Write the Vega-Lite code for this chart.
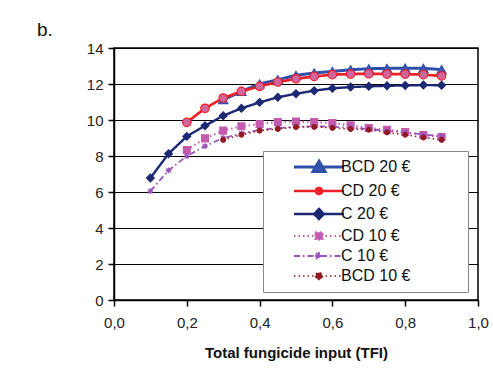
{
  "$schema": "https://vega.github.io/schema/vega-lite/v6.json",
  "autosize": "none",
  "width": 364,
  "height": 252,
  "padding": {"left": 114, "top": 48, "right": 15, "bottom": 73},
  "background": "white",
  "config": {
    "font": "Liberation Sans",
    "view": {"stroke": "black", "strokeWidth": 1.5}
  },
  "title": {"text": "b.", "anchor": "start", "frame": "group", "fontSize": 19, "fontWeight": "normal", "color": "#111", "dx": -77, "offset": -18, "baseline": "bottom"},
  "data": {"values": [
    {"s": "BCD 20 €", "x": 0.3, "y": 11.13}, {"s": "BCD 20 €", "x": 0.35, "y": 11.59}, {"s": "BCD 20 €", "x": 0.4, "y": 12.0}, {"s": "BCD 20 €", "x": 0.45, "y": 12.24}, {"s": "BCD 20 €", "x": 0.5, "y": 12.48}, {"s": "BCD 20 €", "x": 0.55, "y": 12.61}, {"s": "BCD 20 €", "x": 0.6, "y": 12.7}, {"s": "BCD 20 €", "x": 0.65, "y": 12.79}, {"s": "BCD 20 €", "x": 0.7, "y": 12.85}, {"s": "BCD 20 €", "x": 0.75, "y": 12.87}, {"s": "BCD 20 €", "x": 0.8, "y": 12.88}, {"s": "BCD 20 €", "x": 0.85, "y": 12.87}, {"s": "BCD 20 €", "x": 0.9, "y": 12.8},
    {"s": "CD 20 €", "x": 0.2, "y": 9.87}, {"s": "CD 20 €", "x": 0.25, "y": 10.65}, {"s": "CD 20 €", "x": 0.3, "y": 11.22}, {"s": "CD 20 €", "x": 0.35, "y": 11.59}, {"s": "CD 20 €", "x": 0.4, "y": 11.87}, {"s": "CD 20 €", "x": 0.45, "y": 12.11}, {"s": "CD 20 €", "x": 0.5, "y": 12.29}, {"s": "CD 20 €", "x": 0.55, "y": 12.42}, {"s": "CD 20 €", "x": 0.6, "y": 12.52}, {"s": "CD 20 €", "x": 0.65, "y": 12.55}, {"s": "CD 20 €", "x": 0.7, "y": 12.57}, {"s": "CD 20 €", "x": 0.75, "y": 12.55}, {"s": "CD 20 €", "x": 0.8, "y": 12.55}, {"s": "CD 20 €", "x": 0.85, "y": 12.52}, {"s": "CD 20 €", "x": 0.9, "y": 12.45},
    {"s": "C 20 €", "x": 0.1, "y": 6.78}, {"s": "C 20 €", "x": 0.15, "y": 8.13}, {"s": "C 20 €", "x": 0.2, "y": 9.09}, {"s": "C 20 €", "x": 0.25, "y": 9.68}, {"s": "C 20 €", "x": 0.3, "y": 10.24}, {"s": "C 20 €", "x": 0.35, "y": 10.65}, {"s": "C 20 €", "x": 0.4, "y": 10.98}, {"s": "C 20 €", "x": 0.45, "y": 11.26}, {"s": "C 20 €", "x": 0.5, "y": 11.46}, {"s": "C 20 €", "x": 0.55, "y": 11.63}, {"s": "C 20 €", "x": 0.6, "y": 11.76}, {"s": "C 20 €", "x": 0.65, "y": 11.83}, {"s": "C 20 €", "x": 0.7, "y": 11.87}, {"s": "C 20 €", "x": 0.75, "y": 11.9}, {"s": "C 20 €", "x": 0.8, "y": 11.92}, {"s": "C 20 €", "x": 0.85, "y": 11.94}, {"s": "C 20 €", "x": 0.9, "y": 11.93},
    {"s": "CD 10 €", "x": 0.2, "y": 8.33}, {"s": "CD 10 €", "x": 0.25, "y": 8.98}, {"s": "CD 10 €", "x": 0.3, "y": 9.41}, {"s": "CD 10 €", "x": 0.35, "y": 9.65}, {"s": "CD 10 €", "x": 0.4, "y": 9.78}, {"s": "CD 10 €", "x": 0.45, "y": 9.89}, {"s": "CD 10 €", "x": 0.5, "y": 9.92}, {"s": "CD 10 €", "x": 0.55, "y": 9.89}, {"s": "CD 10 €", "x": 0.6, "y": 9.83}, {"s": "CD 10 €", "x": 0.65, "y": 9.7}, {"s": "CD 10 €", "x": 0.7, "y": 9.56}, {"s": "CD 10 €", "x": 0.75, "y": 9.46}, {"s": "CD 10 €", "x": 0.8, "y": 9.33}, {"s": "CD 10 €", "x": 0.85, "y": 9.17}, {"s": "CD 10 €", "x": 0.9, "y": 9.06},
    {"s": "C 10 €", "x": 0.1, "y": 6.05}, {"s": "C 10 €", "x": 0.15, "y": 7.2}, {"s": "C 10 €", "x": 0.2, "y": 8.0}, {"s": "C 10 €", "x": 0.25, "y": 8.55}, {"s": "C 10 €", "x": 0.3, "y": 9.0}, {"s": "C 10 €", "x": 0.35, "y": 9.25}, {"s": "C 10 €", "x": 0.4, "y": 9.45}, {"s": "C 10 €", "x": 0.45, "y": 9.55}, {"s": "C 10 €", "x": 0.5, "y": 9.62}, {"s": "C 10 €", "x": 0.55, "y": 9.65}, {"s": "C 10 €", "x": 0.6, "y": 9.62}, {"s": "C 10 €", "x": 0.65, "y": 9.57}, {"s": "C 10 €", "x": 0.7, "y": 9.5}, {"s": "C 10 €", "x": 0.75, "y": 9.4}, {"s": "C 10 €", "x": 0.8, "y": 9.3}, {"s": "C 10 €", "x": 0.85, "y": 9.2}, {"s": "C 10 €", "x": 0.9, "y": 9.1},
    {"s": "BCD 10 €", "x": 0.3, "y": 8.9}, {"s": "BCD 10 €", "x": 0.35, "y": 9.18}, {"s": "BCD 10 €", "x": 0.4, "y": 9.41}, {"s": "BCD 10 €", "x": 0.45, "y": 9.5}, {"s": "BCD 10 €", "x": 0.5, "y": 9.61}, {"s": "BCD 10 €", "x": 0.55, "y": 9.62}, {"s": "BCD 10 €", "x": 0.6, "y": 9.56}, {"s": "BCD 10 €", "x": 0.65, "y": 9.5}, {"s": "BCD 10 €", "x": 0.7, "y": 9.46}, {"s": "BCD 10 €", "x": 0.75, "y": 9.31}, {"s": "BCD 10 €", "x": 0.8, "y": 9.18}, {"s": "BCD 10 €", "x": 0.85, "y": 9.03}, {"s": "BCD 10 €", "x": 0.9, "y": 8.9}
  ]},
  "encoding": {
    "x": {"field": "x", "type": "quantitative", "scale": {"domain": [0, 1], "nice": false},
      "axis": {"title": "Total fungicide input (TFI)", "values": [0, 0.2, 0.4, 0.6, 0.8, 1.0], "labelExpr": "replace(format(datum.value, '.1f'), '.', ',')", "grid": false, "domainColor": "black", "domainWidth": 1.5, "tickColor": "black", "tickWidth": 1.5, "tickSize": 6, "labelFontSize": 15, "labelColor": "#222", "labelPadding": 9, "titleFontSize": 15, "titleFontWeight": "bold", "titleColor": "#111", "titlePadding": 15, "labelFlush": false}},
    "y": {"field": "y", "type": "quantitative", "scale": {"domain": [0, 14], "nice": false},
      "axis": {"title": null, "values": [0, 2, 4, 6, 8, 10, 12, 14], "grid": true, "gridColor": "black", "gridWidth": 1.2, "gridOpacity": 1, "domainColor": "black", "domainWidth": 1.5, "tickColor": "black", "tickWidth": 1.5, "tickSize": 6, "labelFontSize": 15, "labelColor": "#222", "labelPadding": 5}}
  },
  "resolve": {"scale": {"stroke": "independent", "shape": "independent", "fill": "independent", "size": "independent", "strokeDash": "independent", "strokeWidth": "independent"}, "legend": {"stroke": "independent"}},
  "layer": [
    {
      "mark": {"type": "line"},
      "encoding": {
        "stroke": {"field": "s", "type": "nominal",
          "scale": {"domain": ["BCD 20 €", "CD 20 €", "C 20 €", "CD 10 €", "C 10 €", "BCD 10 €"], "range": ["#2f50aa", "#ee2028", "#1c2873", "#c45aae", "#9a55b8", "#8e1c22"]},
          "legend": {
            "title": null, "orient": "none", "legendX": 149, "legendY": 103,
            "fillColor": "white", "strokeColor": "#888", "padding": 8,
            "labelFontSize": 16, "labelColor": "#111", "labelLimit": 300,
            "labelExpr": "datum.label + '\u00a0\u00a0\u00a0\u00a0\u00a0\u00a0\u00a0\u00a0\u00a0\u00a0\u00a0\u200b'",
            "rowPadding": 4, "symbolSize": 100, "symbolOffset": 40, "labelOffset": 14,
            "encode": {"symbols": {"update": {
              "shape": {"signal": "['M-5,0H5M0,-1.15L1.2,0.9L-1.2,0.9Z', 'M-5,0H5M-0.6,0A0.6,0.6 0 1,0 0.6,0A0.6,0.6 0 1,0 -0.6,0Z', 'M-5,0H5M0,-1L1,0L0,1L-1,0Z', 'M-5,0H5M-0.75,-0.75H0.75V0.75H-0.75Z', 'M-5,0H5M-0.8,0H0.8M0,-0.8V0.8M-0.6,-0.6L0.6,0.6M-0.6,0.6L0.6,-0.6', 'M-5,0H5M-0.7,0A0.7,0.7 0 1,0 0.7,0A0.7,0.7 0 1,0 -0.7,0Z'][indexof(['BCD 20 €', 'CD 20 €', 'C 20 €', 'CD 10 €', 'C 10 €', 'BCD 10 €'], datum.value)]"},
              "fill": {"signal": "['#3a5cb8', '#d0669c', '#1c2873', '#c45aae', '#9a55b8', '#8e1c22'][indexof(['BCD 20 €', 'CD 20 €', 'C 20 €', 'CD 10 €', 'C 10 €', 'BCD 10 €'], datum.value)]"},
              "strokeDash": {"signal": "[[1,0],[1,0],[1,0],[1.5,3],[6,3,1.5,3],[1.5,3]][indexof(['BCD 20 €', 'CD 20 €', 'C 20 €', 'CD 10 €', 'C 10 €', 'BCD 10 €'], datum.value)]"},
              "strokeWidth": {"signal": "[3,1.5,3,1.5,1.5,1.5][indexof(['BCD 20 €', 'CD 20 €', 'C 20 €', 'CD 10 €', 'C 10 €', 'BCD 10 €'], datum.value)]"},
              "opacity": {"value": 1}
            }}}
          }},
        "strokeDash": {"field": "s", "type": "nominal", "legend": null,
          "scale": {"domain": ["BCD 20 €", "CD 20 €", "C 20 €", "CD 10 €", "C 10 €", "BCD 10 €"], "range": [[1, 0], [1, 0], [1, 0], [1.5, 3], [6, 3, 1.5, 3], [1.5, 3]]}},
        "strokeWidth": {"field": "s", "type": "nominal", "legend": null,
          "scale": {"domain": ["BCD 20 €", "CD 20 €", "C 20 €", "CD 10 €", "C 10 €", "BCD 10 €"], "range": [3, 1.5, 3, 1.5, 1.5, 1.5]}}
      }
    },
    {
      "mark": {"type": "point", "opacity": 1, "strokeWidth": 1.2},
      "encoding": {
        "shape": {"field": "s", "type": "nominal", "legend": null,
          "scale": {"domain": ["BCD 20 €", "CD 20 €", "C 20 €", "CD 10 €", "C 10 €", "BCD 10 €"], "range": ["triangle-up", "circle", "diamond", "square", "M-1,0H1M0,-1V1M-0.75,-0.75L0.75,0.75M-0.75,0.75L0.75,-0.75", "circle"]}},
        "fill": {"field": "s", "type": "nominal", "legend": null,
          "scale": {"domain": ["BCD 20 €", "CD 20 €", "C 20 €", "CD 10 €", "C 10 €", "BCD 10 €"], "range": ["#3a5cb8", "#d0669c", "#1c2873", "#c45aae", "#9a55b8", "#8e1c22"]}},
        "stroke": {"field": "s", "type": "nominal", "legend": null,
          "scale": {"domain": ["BCD 20 €", "CD 20 €", "C 20 €", "CD 10 €", "C 10 €", "BCD 10 €"], "range": ["#2f50aa", "#ee2028", "#1c2873", "#c45aae", "#9a55b8", "#8e1c22"]}},
        "size": {"field": "s", "type": "nominal", "legend": null,
          "scale": {"domain": ["BCD 20 €", "CD 20 €", "C 20 €", "CD 10 €", "C 10 €", "BCD 10 €"], "range": [85, 22, 60, 40, 45, 36]}}
      }
    }
  ]
}
